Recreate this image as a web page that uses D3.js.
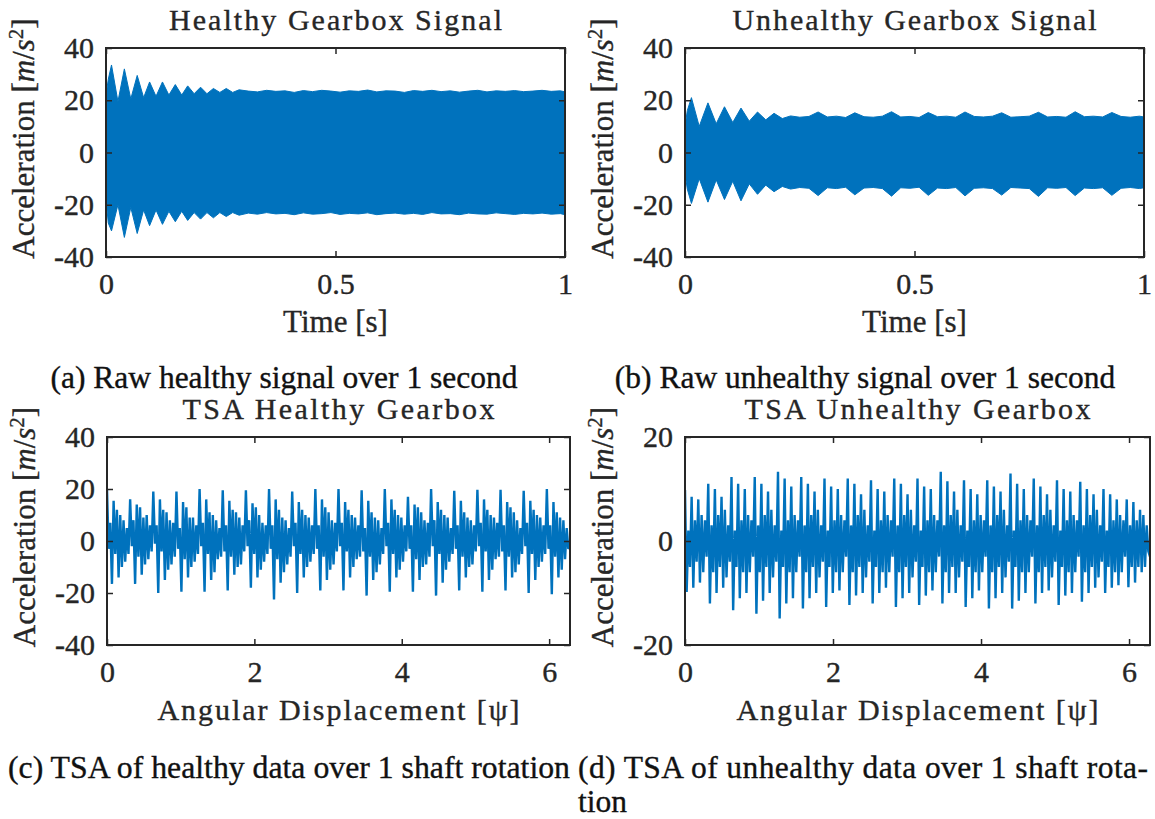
<!DOCTYPE html>
<html>
<head>
<meta charset="utf-8">
<script src="https://cdn.jsdelivr.net/npm/d3@7"></script>
<style>
  body { margin: 0; background: #fff; }
</style>
</head>
<body>
<div id="chart"></div>
<script>
// raw healthy signal, envelope
const rawHealthyTime = [0, 0.005, 0.012, 0.026, 0.040, 0.054, 0.068, 0.082, 0.095, 0.109, 0.123, 0.137, 0.151, 0.165, 0.178, 0.192, 0.206, 0.220, 0.234, 0.248, 0.262, 0.276, 0.290,
  0.31, 0.33, 0.35, 0.37, 0.39, 0.41, 0.43, 0.45, 0.47, 0.49, 0.51, 0.53, 0.55, 0.57, 0.59, 0.61, 0.63, 0.65, 0.67, 0.69,
  0.71, 0.73, 0.75, 0.77, 0.79, 0.81, 0.83, 0.85, 0.87, 0.89, 0.91, 0.93, 0.95, 0.97, 0.99, 1.0];
const rawHealthyUpper = [22, 28, 33.5, 19.5, 32, 20.5, 29.5, 21, 27, 21.5, 27, 22, 26, 22, 25.5, 22.5, 25, 22.5, 24.5, 23, 24.5, 23, 24,
  23.5, 23.2, 23.8, 23.4, 23.6, 23.0, 23.7, 23.3, 23.8, 23.5, 23.1, 23.6, 23.4, 23.9, 23.2, 23.6, 23.5, 23.0, 23.7, 23.4,
  23.8, 23.3, 23.6, 23.1, 23.5, 23.8, 23.2, 23.6, 23.4, 23.7, 23.3, 23.5, 23.8, 23.4, 23.6, 23.2];
const rawHealthyLower = [-18, -27, -30, -20, -32.5, -21, -31, -22, -28, -22, -27.5, -22.5, -26.5, -22.5, -26, -23, -25.5, -23, -25, -23, -24.5, -23, -24,
  -23.2, -23.6, -23.0, -23.5, -23.3, -23.8, -23.1, -23.6, -23.4, -23.0, -23.7, -23.3, -23.5, -23.1, -23.8, -23.4, -23.2, -23.6, -23.3, -23.7,
  -23.0, -23.5, -23.4, -23.8, -23.2, -23.5, -23.6, -23.1, -23.4, -23.7, -23.3, -23.5, -23.2, -23.6, -23.4, -23.8];

// raw unhealthy signal, envelope
const rawFaultyTime = [0, 0.005, 0.014, 0.031, 0.050, 0.068, 0.086, 0.104, 0.122, 0.140, 0.158, 0.176, 0.194, 0.212, 0.230,
  0.25, 0.27, 0.29, 0.31, 0.33, 0.35, 0.37, 0.39, 0.41, 0.43, 0.45, 0.47, 0.49, 0.51, 0.53, 0.55, 0.57, 0.59, 0.61,
  0.63, 0.65, 0.67, 0.69, 0.71, 0.73, 0.75, 0.77, 0.79, 0.81, 0.83, 0.85, 0.87, 0.89, 0.91, 0.93, 0.95, 0.97, 0.99, 1.0];
const rawFaultyUpper = [10, 16, 21, 10, 19, 11, 17.5, 11.5, 17, 12, 15.5, 12.5, 15, 13, 14,
  13.5, 13.8, 15.5, 13.6, 13.9, 13.4, 15.2, 13.7, 13.5, 13.9, 15.6, 13.6, 13.8, 13.4, 15.3, 13.7, 13.9, 13.5, 15.5,
  13.8, 13.6, 13.9, 15.2, 13.5, 13.7, 13.9, 15.4, 13.6, 13.8, 13.5, 15.6, 13.7, 13.9, 13.6, 15.3, 13.8, 13.5, 13.9, 13.6];
const rawFaultyLower = [-8, -14, -19.5, -10, -19, -10.5, -18, -11, -18.5, -12, -16, -12.5, -15, -13, -14,
  -13.4, -13.7, -16.5, -13.5, -13.8, -13.3, -16.2, -13.6, -13.4, -13.8, -16.7, -13.5, -13.7, -13.3, -16.4, -13.6, -13.8, -13.4, -16.6,
  -13.7, -13.5, -13.8, -16.3, -13.4, -13.6, -13.8, -16.8, -13.5, -13.7, -13.4, -16.5, -13.6, -13.8, -13.5, -16.4, -13.7, -13.4, -13.8, -13.5];

// TSA healthy, one tooth-mesh per row (20 teeth)
const tsaHealthy = [
  19.8, -3, 7, -16.5, 15.5, -5, 12, -14, 10, -10, 8, -8, 5, -5,
  16, -2, 8, -16.5, 14, -6, 13, -13, 9, -9, 10, -7, 6, -4,
  19, -1, 6, -20, 16, -4, 12, -15, 11, -11, 8, -9, 7, -6,
  19, -3, 5, -19.5, 15, -7, 13, -14, 9, -10, 9, -8, 6, -5,
  20, -2, 7, -19.5, 16, -5, 11, -15, 10, -12, 8, -7, 5, -6,
  19.5, -4, 6, -19, 15.5, -6, 12, -13, 11, -10, 9, -9, 6, -4,
  19.5, -2, 8, -18, 14.5, -5, 13, -14, 10, -11, 7, -8, 6, -5,
  20, -3, 6, -22.5, 16, -7, 12, -16, 9, -12, 8, -9, 5, -6,
  19, -2, 7, -20, 15, -5, 12, -14, 10, -10, 9, -8, 6, -5,
  20, -3, 6, -19, 16, -6, 13, -15, 11, -11, 8, -9, 7, -4,
  20, -2, 7, -19, 15, -4, 12, -14, 10, -10, 9, -7, 6, -6,
  19.5, -4, 5, -21, 15.5, -6, 11, -15, 9, -12, 8, -9, 5, -5,
  20, -2, 7, -19.5, 16, -5, 12, -14, 10, -11, 9, -8, 6, -4,
  17, -3, 6, -19.5, 14, -7, 13, -15, 11, -10, 8, -9, 7, -6,
  20, -2, 8, -21, 15, -5, 12, -16, 10, -11, 9, -8, 5, -5,
  19.3, -3, 6, -19, 15.5, -6, 11, -14, 9, -10, 8, -9, 6, -4,
  19.7, -2, 7, -19.5, 16, -4, 12, -15, 10, -11, 9, -7, 7, -6,
  19.7, -4, 6, -19, 15, -6, 13, -14, 11, -12, 8, -9, 5, -5,
  19.3, -2, 7, -20, 15.5, -5, 12, -15, 10, -10, 9, -8, 6, -5,
  20, -3, 6, -20.5, 15, -6, 11, -14, 9, -11, 8, -7, 5, -3,
  -2];

// TSA unhealthy
const tsaFaulty = [
  9.8, -9.8, 2, -5, 8.5, -9, 4, -4, 8, -8, 5, -6, 4, -3,
  11, -12, 3, -6, 10, -10, 5, -5, 8.5, -9, 6, -7, 3, -4,
  12.3, -13.3, 2, -5, 11, -11, 4, -6, 10, -10, 5, -6, 4, -3,
  12.3, -14, 3, -6, 11, -11.5, 5, -5, 9.5, -10, 6, -7, 3, -4,
  13.3, -14.9, 2, -5, 12, -12, 4, -6, 10.5, -11, 5, -6, 4, -3,
  12.3, -13, 3, -6, 11, -11, 5, -5, 9.5, -10, 6, -7, 3, -4,
  12, -12.7, 2, -5, 10.5, -10, 4, -6, 10, -9.5, 5, -6, 4, -3,
  12, -12.3, 3, -6, 11, -10.5, 5, -5, 9, -10, 6, -7, 3, -4,
  11.7, -12, 2, -5, 10, -10, 4, -6, 9.5, -9, 5, -6, 4, -3,
  12, -12.7, 3, -6, 11, -11, 5, -5, 9, -10, 6, -7, 3, -4,
  12, -12.3, 2, -5, 10.5, -10.5, 4, -6, 10, -9.5, 5, -6, 4, -3,
  13.3, -12, 3, -6, 11.5, -10, 5, -5, 9.5, -10, 6, -7, 3, -4,
  11.7, -12.7, 2, -5, 10, -11, 4, -6, 9, -9.5, 5, -6, 4, -3,
  11.7, -13, 3, -6, 10.5, -11, 5, -5, 9.5, -10, 6, -7, 3, -4,
  13, -13, 2, -5, 11, -11.5, 4, -6, 10, -10, 5, -6, 4, -3,
  12, -12, 3, -6, 10.5, -10, 5, -5, 9, -9.5, 6, -7, 3, -4,
  11.7, -12.3, 2, -5, 10, -10.5, 4, -6, 9.5, -10, 5, -6, 4, -3,
  11.4, -11.7, 3, -6, 10, -10, 5, -5, 9, -9, 6, -7, 3, -4,
  10, -10, 2, -5, 9, -9, 4, -6, 8, -8.5, 5, -6, 4, -3,
  8, -8.9, 3, -5, 7.5, -8, 4, -5, 6, -6, 5, -5, 3, -2,
  -3];

const timeTicks = [0, 0.5, 1];
const angleTicks = [0, 2, 4, 6];
const accTicksWide = [-40, -20, 0, 20, 40];
const accTicksNarrow = [-20, 0, 20];

const blue = "#0072BD";
const ink = "#262626";
const serif = "Liberation Serif";

const svg = d3.select("#chart")
  .append("svg")
  .attr("width", 1155)
  .attr("height", 819)
  .attr("font-family", serif);

function envelope(time, upper, lower) {
  return time.map((t, i) => ({ t: t, hi: upper[i], lo: lower[i] }));
}

function angles(values) {
  return values.map((v, i) => ({ t: i * 2 * Math.PI / (values.length - 1), v: v }));
}

// slightly heavier glyphs, like the scanned figure
function ink_text(sel, color) {
  return sel.attr("fill", color).attr("stroke", color).attr("stroke-width", 0.35);
}

const panels = [
  { id: "a", left: 106, right: 565, top: 48, bottom: 257, xDomain: [0, 1], yDomain: [-40, 40],
    xTicks: timeTicks, yTicks: accTicksWide, kind: "area", data: envelope(rawHealthyTime, rawHealthyUpper, rawHealthyLower),
    title: "Healthy Gearbox Signal", titleW: 333, xLabel: "Time [s]", xLabelCm: false, xLabelY: 332 },
  { id: "b", left: 685, right: 1144, top: 48, bottom: 257, xDomain: [0, 1], yDomain: [-40, 40],
    xTicks: timeTicks, yTicks: accTicksWide, kind: "area", data: envelope(rawFaultyTime, rawFaultyUpper, rawFaultyLower),
    title: "Unhealthy Gearbox Signal", titleW: 364, xLabel: "Time [s]", xLabelCm: false, xLabelY: 332 },
  { id: "c", left: 107, right: 570, top: 437, bottom: 645, xDomain: [0, 2 * Math.PI], yDomain: [-40, 40],
    xTicks: angleTicks, yTicks: accTicksWide, kind: "line", data: angles(tsaHealthy),
    title: "TSA Healthy Gearbox", titleW: 312, xLabel: "Angular Displacement [ψ]", xLabelCm: true, xLabelY: 720 },
  { id: "d", left: 685, right: 1150, top: 437, bottom: 645, xDomain: [0, 2 * Math.PI], yDomain: [-20, 20],
    xTicks: angleTicks, yTicks: accTicksNarrow, kind: "line", data: angles(tsaFaulty),
    title: "TSA Unhealthy Gearbox", titleW: 346, xLabel: "Angular Displacement [ψ]", xLabelCm: true, xLabelY: 720 }
];

panels.forEach(p => {
  const x = d3.scaleLinear().domain(p.xDomain).range([p.left, p.right]);
  const y = d3.scaleLinear().domain(p.yDomain).range([p.bottom, p.top]);
  const g = svg.append("g").attr("class", "panel-" + p.id);

  svg.append("clipPath").attr("id", "clip-" + p.id)
    .append("rect")
    .attr("x", p.left).attr("y", p.top)
    .attr("width", p.right - p.left).attr("height", p.bottom - p.top);

  const plot = g.append("g").attr("clip-path", `url(#clip-${p.id})`);

  if (p.kind === "area") {
    const area = d3.area()
      .x(d => x(d.t))
      .y0(d => y(d.lo))
      .y1(d => y(d.hi));
    plot.append("path")
      .datum(p.data)
      .attr("d", area)
      .attr("fill", blue)
      .attr("stroke", blue)
      .attr("stroke-width", 1);
  } else {
    const line = d3.line()
      .x(d => x(d.t))
      .y(d => y(d.v));
    plot.append("path")
      .datum(p.data)
      .attr("d", line)
      .attr("fill", "none")
      .attr("stroke", blue)
      .attr("stroke-width", 2.4)
      .attr("stroke-linejoin", "miter")
      .attr("stroke-miterlimit", 2);
  }

  const fmt = d => String(d);
  const axes = [
    g.append("g").attr("transform", `translate(0,${p.bottom})`)
      .call(d3.axisBottom(x).tickValues(p.xTicks).tickFormat(fmt).tickSize(-6).tickPadding(16)),
    g.append("g").attr("transform", `translate(0,${p.top})`)
      .call(d3.axisTop(x).tickValues(p.xTicks).tickFormat("").tickSize(-6)),
    g.append("g").attr("transform", `translate(${p.left},0)`)
      .call(d3.axisLeft(y).tickValues(p.yTicks).tickFormat(fmt).tickSize(-6).tickPadding(12)),
    g.append("g").attr("transform", `translate(${p.right},0)`)
      .call(d3.axisRight(y).tickValues(p.yTicks).tickFormat("").tickSize(-6))
  ];
  axes.forEach(a => {
    a.attr("font-family", serif).attr("font-size", 30);
    a.select(".domain").remove();
    a.selectAll(".tick line").attr("stroke", ink).attr("stroke-width", 1.5);
    ink_text(a.selectAll(".tick text"), ink)
      .attr("font-family", serif)
      .attr("font-size", 30);
  });

  g.append("rect")
    .attr("x", p.left).attr("y", p.top)
    .attr("width", p.right - p.left).attr("height", p.bottom - p.top)
    .attr("fill", "none")
    .attr("stroke", ink)
    .attr("stroke-width", 2);

  const cx = (p.left + p.right) / 2;

  ink_text(g.append("text"), ink)
    .attr("x", cx).attr("y", p.top - 18)
    .attr("text-anchor", "middle")
    .attr("textLength", p.titleW)
    .attr("lengthAdjust", "spacing")
    .attr("font-size", 30)
    .text(p.title);

  const xl = ink_text(g.append("text"), ink)
    .attr("x", cx).attr("y", p.xLabelY)
    .attr("text-anchor", "middle")
    .attr("font-size", p.xLabelCm ? 30 : 31)
    .text(p.xLabel);
  if (p.xLabelCm) xl.attr("textLength", 362).attr("lengthAdjust", "spacing");

  const yl = ink_text(g.append("text"), ink)
    .attr("transform", `translate(${p.left - 72},${(p.top + p.bottom) / 2 - 14}) rotate(-90)`)
    .attr("text-anchor", "middle")
    .attr("font-size", 31);
  yl.append("tspan").text("Acceleration [");
  yl.append("tspan").attr("font-style", "italic").text("m");
  yl.append("tspan").text("/");
  yl.append("tspan").attr("font-style", "italic").text("s");
  yl.append("tspan").attr("dy", -11).attr("font-size", 21).text("2");
  yl.append("tspan").attr("dy", 11).text("]");
});

// sub-figure captions
const captions = ink_text(svg.append("g"), "#111")
  .attr("font-family", serif)
  .attr("font-size", 31.5);
captions.append("text").attr("x", 284).attr("y", 388).attr("text-anchor", "middle")
  .text("(a) Raw healthy signal over 1 second");
captions.append("text").attr("x", 865).attr("y", 388).attr("text-anchor", "middle")
  .text("(b) Raw unhealthy signal over 1 second");
captions.append("text").attr("x", 8).attr("y", 778)
  .attr("textLength", 562).attr("lengthAdjust", "spacingAndGlyphs")
  .text("(c) TSA of healthy data over 1 shaft rotation");
captions.append("text").attr("x", 578).attr("y", 778)
  .attr("textLength", 570).attr("lengthAdjust", "spacing")
  .text("(d) TSA of unhealthy data over 1 shaft rota-");
captions.append("text").attr("x", 578).attr("y", 812)
  .text("tion");
</script>
</body>
</html>
